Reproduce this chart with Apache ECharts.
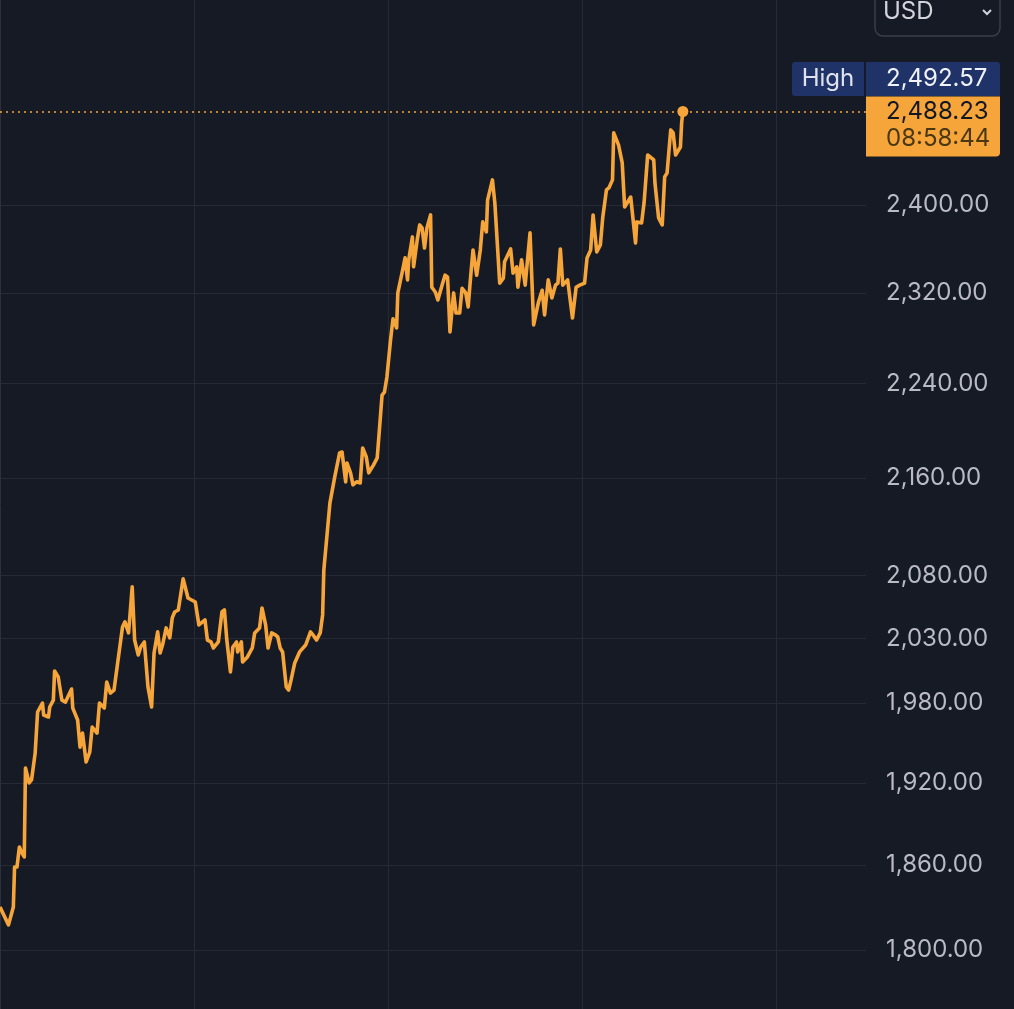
<!DOCTYPE html>
<html>
<head>
<meta charset="utf-8">
<script src="https://cdn.jsdelivr.net/npm/echarts@6.0.0/dist/echarts.min.js"></script>
<style>
html, body { margin: 0; padding: 0; background: #161a25; }
#main { width: 1014px; height: 1009px; }
</style>
</head>
<body>
<div id="main"></div>
<script>
// bar number (time) and close price
var bars = [0, 7, 11, 12, 14, 16, 18, 20, 21, 24, 26, 29, 31, 35, 36, 40, 41, 44, 45, 48,
  51, 54, 59, 60, 64, 66, 68, 71, 74, 76, 80, 82, 86, 88, 91, 94, 97, 101, 103, 106,
  109, 111, 114, 116, 119, 122, 125, 127, 130, 132, 134, 137, 140, 142, 144, 147, 151, 155, 161, 164,
  169, 171, 174, 176, 180, 183, 185, 187, 190, 192, 195, 196, 199, 200, 204, 205, 208, 210, 214, 216,
  219, 221, 224, 227, 229, 231, 233, 236, 238, 240, 243, 247, 252, 253, 256, 258, 261, 264, 266, 267,
  270, 272, 276, 280, 282, 285, 286, 289, 291, 294, 297, 299, 302, 304, 308, 311, 313, 315, 317, 319,
  322, 324, 327, 328, 332, 334, 336, 337, 340, 341, 344, 346, 348, 350, 352, 355, 356, 359, 361, 365,
  367, 369, 371, 374, 376, 379, 381, 384, 386, 388, 390, 393, 396, 398, 401, 402, 406, 408, 412, 415,
  416, 421, 423, 426, 427, 430, 433, 437, 440, 444, 447, 449, 452, 455, 458, 460, 462, 464, 468, 472,
  475, 478, 482, 484, 487, 489, 492, 495, 497, 500, 502, 505, 506, 510, 513, 515, 517, 520, 522, 524,
  525, 529, 531, 534, 539, 540, 543, 546, 548, 550, 553, 555, 557, 561, 562, 563];
var prices = [1830.2, 1817.6, 1830.2, 1858.7, 1858.7, 1873.1, 1868.8, 1865.9, 1931.1, 1920.0, 1922.2, 1942.3, 1973.3, 1980.1, 1971.0, 1969.5, 1977.1, 1982.4, 2004.8, 2000.2,
  1982.4, 1980.9, 1990.9, 1976.3, 1967.2, 1946.7, 1957.3, 1935.6, 1943.0, 1961.9, 1957.3, 1980.1, 1976.3, 1996.3, 1987.8, 1990.1, 2011.0, 2039.2, 2043.2, 2034.5,
  2071.0, 2028.9, 2017.2, 2023.5, 2027.4, 1992.5, 1977.1, 2018.8, 2035.3, 2018.8, 2025.0, 2038.4, 2030.6, 2046.3, 2051.0, 2052.6, 2077.4, 2062.1, 2058.9, 2040.8,
  2044.7, 2028.9, 2027.4, 2022.7, 2027.4, 2051.0, 2052.6, 2028.9, 2004.1, 2023.5, 2027.4, 2019.6, 2027.4, 2011.8, 2015.7, 2014.9, 2022.7, 2034.5, 2038.4, 2054.2,
  2040.8, 2022.7, 2034.5, 2033.0, 2031.4, 2022.7, 2019.6, 1992.5, 1990.1, 1997.9, 2011.0, 2019.6, 2025.0, 2023.5, 2035.3, 2033.0, 2028.9, 2034.5, 2048.7, 2084.6,
  2117.1, 2139.1, 2160.8, 2180.9, 2181.7, 2156.7, 2172.5, 2164.2, 2154.2, 2156.7, 2155.8, 2185.1, 2177.5, 2164.2, 2170.9, 2176.7, 2203.0, 2230.2, 2232.8, 2245.8,
  2278.2, 2296.8, 2288.8, 2319.9, 2340.7, 2351.5, 2331.6, 2349.7, 2370.6, 2343.4, 2367.9, 2381.6, 2378.9, 2360.5, 2378.9, 2390.8, 2325.0, 2320.5, 2313.6, 2328.7,
  2335.9, 2334.1, 2285.2, 2319.9, 2302.0, 2302.0, 2324.1, 2319.9, 2307.4, 2334.1, 2358.7, 2335.9, 2358.7, 2384.4, 2375.2, 2404.6, 2423.4, 2401.8, 2328.7, 2333.2,
  2347.9, 2359.6, 2337.7, 2343.4, 2325.0, 2349.7, 2326.9, 2374.3, 2291.4, 2311.8, 2322.3, 2300.3, 2331.6, 2315.4, 2326.9, 2328.7, 2359.6, 2326.9, 2331.6, 2297.6,
  2325.0, 2326.9, 2328.7, 2351.5, 2358.7, 2390.8, 2356.9, 2363.3, 2389.0, 2414.0, 2415.9, 2423.4, 2467.8, 2456.1, 2439.3, 2398.2, 2401.8, 2407.4, 2386.2, 2365.1,
  2384.4, 2383.5, 2401.8, 2446.8, 2442.1, 2420.5, 2388.1, 2381.6, 2426.2, 2429.9, 2470.6, 2467.8, 2446.8, 2454.4, 2477.3, 2488.23];
var priceTicks = [1800, 1860, 1920, 1980, 2030, 2080, 2160, 2240, 2320, 2400];
var highPrice = 2492.57;
var lastPrice = 2488.23;
var lastTime = '08:58:44';

var orange = '#f6a53a';
var font = 'Inter, Roboto, sans-serif';

function fmt(v) {
  return Number(v).toLocaleString('en-US', { minimumFractionDigits: 2, maximumFractionDigits: 2 });
}

var chart = echarts.init(document.getElementById('main'));
chart.setOption({
  backgroundColor: '#161a25',
  animation: false,
  grid: { left: 0, right: 148, top: 0, bottom: 0 },
  xAxis: {
    type: 'value',
    min: 0,
    max: 714,
    interval: 160,
    axisLine: { show: false },
    axisTick: { show: false },
    axisLabel: { show: false },
    splitLine: { show: true, showMinLine: false, showMaxLine: false, lineStyle: { color: '#262a36', width: 1 } }
  },
  yAxis: {
    type: 'log',
    position: 'right',
    min: 1759.5,
    max: 2597.7,
    axisLine: { show: true, lineStyle: { color: '#2c303b', width: 1 } },
    axisTick: { show: false, customValues: priceTicks },
    axisLabel: {
      customValues: priceTicks,
      formatter: fmt,
      color: '#b8bbc4',
      fontSize: 24,
      fontFamily: font,
      margin: 20
    },
    splitLine: { show: true, lineStyle: { color: '#262a36', width: 1 } }
  },
  series: [{
    type: 'line',
    data: bars.map(function (b, i) { return [b, prices[i]]; }),
    showSymbol: false,
    lineStyle: { color: orange, width: 3.6, join: 'round' },
    itemStyle: { color: orange },
    markLine: {
      silent: true,
      symbol: 'none',
      label: { show: false },
      lineStyle: { color: orange, type: [2, 4], width: 1.5 },
      data: [{ yAxis: lastPrice }]
    },
    markPoint: {
      symbol: 'circle',
      symbolSize: 11,
      label: { show: false },
      itemStyle: { color: orange },
      data: [{ coord: [bars[bars.length - 1], lastPrice] }]
    }
  }]
});

// price tag and header widgets on the right scale
var py = chart.convertToPixel({ yAxisIndex: 0 }, lastPrice);
chart.setOption({
  graphic: [
    { type: 'rect', shape: { x: 875, y: -12, width: 125, height: 48, r: 8 }, style: { fill: 'none', stroke: '#3a3e4a', lineWidth: 1.5 } },
    { type: 'text', x: 883, y: 12, style: { text: 'USD', fill: '#d1d4dc', font: '24px ' + font, verticalAlign: 'middle' } },
    { type: 'polyline', shape: { points: [[983, 10], [987, 14], [991, 10]] }, style: { stroke: '#d1d4dc', lineWidth: 2, fill: 'none' } },
    { type: 'rect', shape: { x: 792, y: 62, width: 72, height: 34, r: [3, 0, 0, 3] }, style: { fill: '#1f3368' } },
    { type: 'rect', shape: { x: 866, y: 62, width: 134, height: 34, r: [0, 3, 0, 0] }, style: { fill: '#1f3368' } },
    { type: 'text', x: 828, y: 79, style: { text: 'High', fill: '#e0e3eb', font: '24px ' + font, align: 'center', verticalAlign: 'middle' } },
    { type: 'text', x: 886, y: 79, style: { text: fmt(highPrice), fill: '#f0f2f7', font: '24px ' + font, verticalAlign: 'middle' } },
    { type: 'rect', shape: { x: 866, y: py - 15, width: 134, height: 60, r: [0, 0, 4, 0] }, style: { fill: orange } },
    { type: 'text', x: 886, y: py, style: { text: fmt(lastPrice), fill: '#131722', font: '24px ' + font, verticalAlign: 'middle' } },
    { type: 'text', x: 886, y: py + 27, style: { text: lastTime, fill: '#4a3814', font: '24px ' + font, verticalAlign: 'middle' } }
  ]
});
</script>
</body>
</html>
